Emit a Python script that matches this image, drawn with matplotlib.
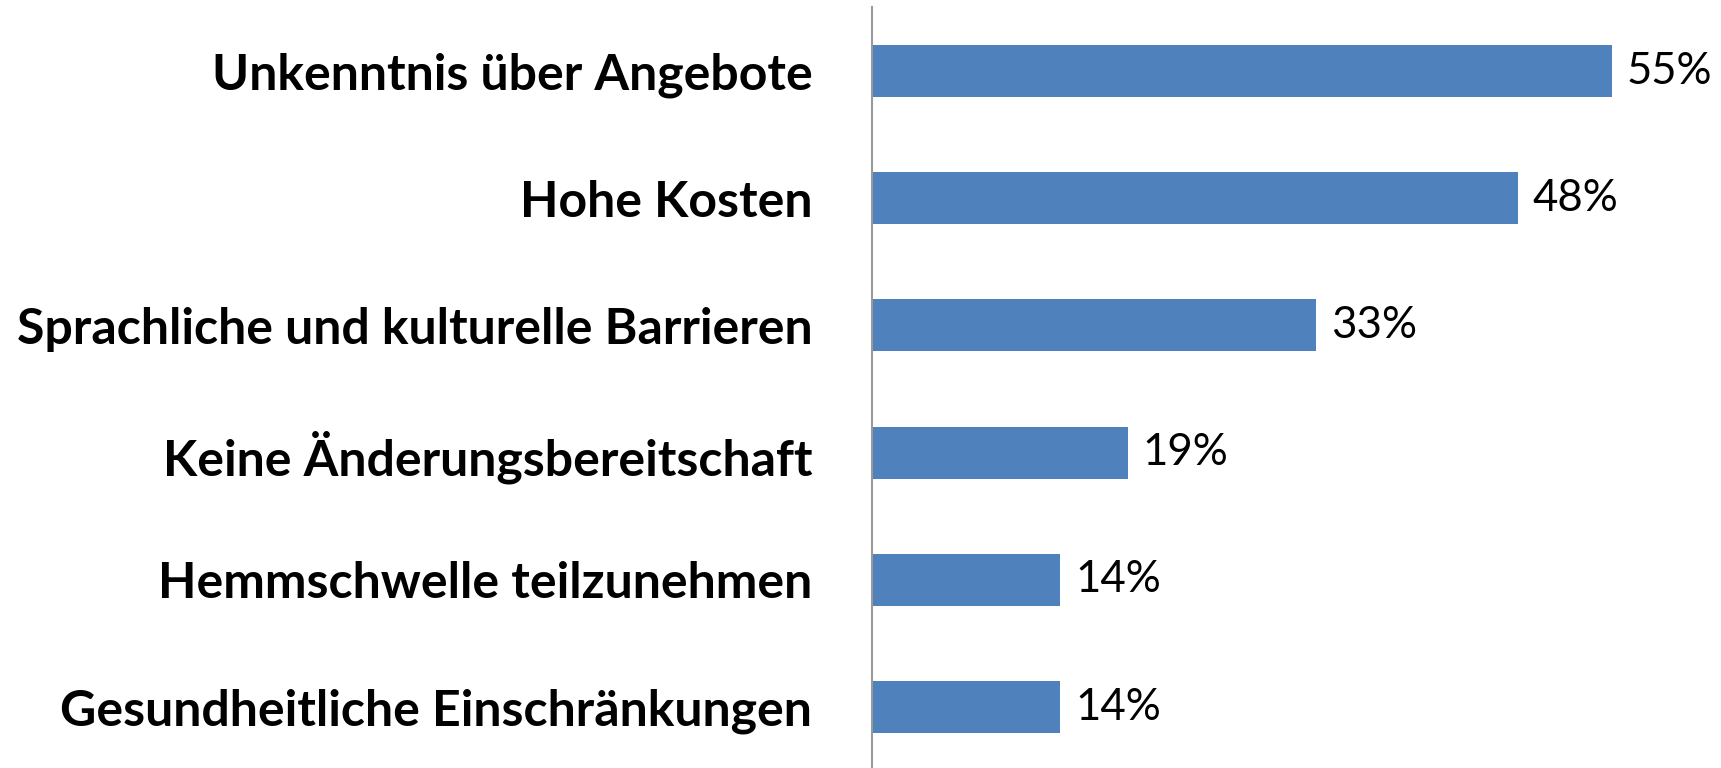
import matplotlib
matplotlib.use("Agg")
import matplotlib.pyplot as plt

categories = ["Unkenntnis über Angebote", "Hohe Kosten", "Sprachliche und kulturelle Barrieren",
              "Keine Änderungsbereitschaft", "Hemmschwelle teilzunehmen", "Gesundheitliche Einschränkungen"]
values = [55, 48, 33, 19, 14, 14]

fig = plt.figure(figsize=(17.21, 7.68), dpi=100)
W, H = 1721, 768
x0, x1 = 872, 872 + 60 * 13.45
y_top, y_bot = 7.4, 770.6
ax = fig.add_axes([x0 / W, 1 - y_bot / H, (x1 - x0) / W, (y_bot - y_top) / H])

ypos = list(range(len(categories)))
ax.barh(ypos, values, height=0.41, color="#4F81BD")
ax.set_xlim(0, 60)
ax.set_ylim(len(categories) - 0.5, -0.5)

for y, v in zip(ypos, values):
    ax.annotate(f"{v}%", xy=(v, y), xytext=(11, 0), textcoords="offset points",
                ha="left", va="center", fontsize=31.5, family="Lato", color="black")

ax.set_yticks(ypos)
ax.set_yticklabels(categories, fontsize=36, fontweight="bold", family="Lato")
ax.tick_params(axis="y", length=0, pad=43)
ax.set_xticks([])
for s in ["top", "right", "bottom"]:
    ax.spines[s].set_visible(False)
ax.spines["left"].set_color("#999999")
ax.spines["left"].set_linewidth(1.5)

fig.savefig("out.png", dpi=100)
